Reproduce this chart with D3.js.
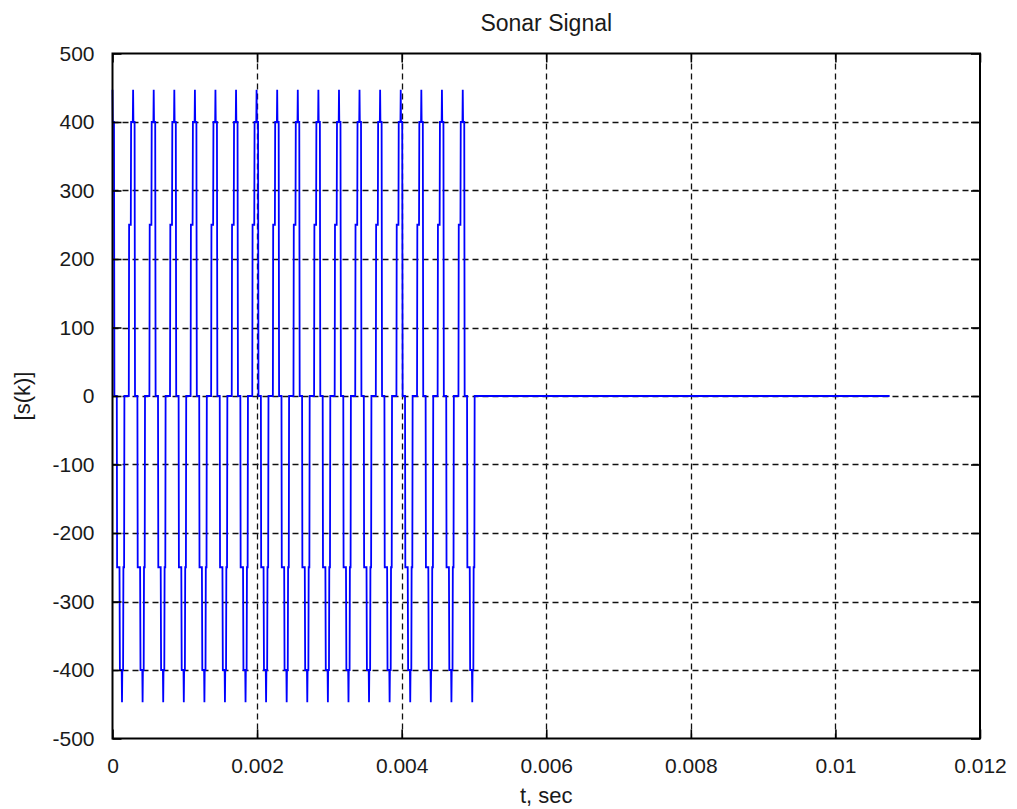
<!DOCTYPE html>
<html>
<head>
<meta charset="utf-8">
<script src="https://cdn.jsdelivr.net/npm/d3@7"></script>
<style>
  html, body { margin: 0; padding: 0; background: #ffffff; }
  svg { display: block; }
  text { font-family: "Liberation Sans", Arial, sans-serif; fill: #1a1a1a; }
</style>
</head>
<body>
<svg id="chart" width="1017" height="809"></svg>
<script>
// ---- data ----
const title = "Sonar Signal";
const xLabel = "t, sec";
const yLabel = "[s(k)]";
const xTicks = [0, 0.002, 0.004, 0.006, 0.008, 0.01, 0.012];
const xTickLabels = ["0", "0.002", "0.004", "0.006", "0.008", "0.01", "0.012"];
const yTicks = [500, 400, 300, 200, 100, 0, -100, -200, -300, -400, -500];
const yTickLabels = ["500", "400", "300", "200", "100", "0", "-100", "-200", "-300", "-400", "-500"];

// times (s) of the positive peaks of the pulse
const peakTimes = [0, 0.000285, 0.000570, 0.000855, 0.001140, 0.001424, 0.001709,
  0.001993, 0.002278, 0.002563, 0.002848, 0.003133, 0.003417, 0.003702,
  0.003987, 0.004272, 0.004557, 0.004845];
// shape of one cycle relative to its positive peak: time offset (s) and value
const cycleOffsetT = [-0.0000595, -0.0000553, -0.0000318, -0.0000277, -0.0000041, 0,
  0.0000041, 0.0000207, 0.0000263, 0.0000595, 0.0000636, 0.0000968, 0.0001023,
  0.0001272, 0.0001314, 0.0001355, 0.0001466, 0.0001507, 0.0001604, 0.0001646];
const cycleValue = [0, 250, 250, 400, 400, 447, 400, 400, 0, 0, -250, -250, -400,
  -400, -447, -400, -400, -250, -250, 0];
const signalStart = { t: 0, s: 447 };
const signalEndT = 0.01075;   // zero tail ends here
const signalEndValue = 0;

// build the series from the read values
const series = [signalStart];
peakTimes.forEach(p => {
  cycleOffsetT.forEach((dt, i) => {
    const t = p + dt;
    if (t > 0) series.push({ t: t, s: cycleValue[i] });
  });
});
series.push({ t: signalEndT, s: signalEndValue });

// ---- layout ----
const svg = d3.select("#chart");
const L = 112.5, R = 980, T = 53.5, B = 738.5;
const x = d3.scaleLinear().domain([0, 0.012]).range([L, R]);
const y = d3.scaleLinear().domain([-500, 500]).range([B, T]);

svg.append("rect").attr("width", 1017).attr("height", 809).attr("fill", "#fff");

// grid
const grid = svg.append("g").attr("stroke", "#111").attr("stroke-width", 1.3)
  .attr("stroke-dasharray", "6,4");
grid.selectAll(".vg").data(xTicks.slice(1, -1)).enter().append("line")
  .attr("x1", d => Math.round(x(d)) + 0.5).attr("x2", d => Math.round(x(d)) + 0.5)
  .attr("y1", T).attr("y2", B);
grid.selectAll(".hg").data(yTicks.slice(1, -1)).enter().append("line")
  .attr("y1", d => Math.round(y(d)) + 0.5).attr("y2", d => Math.round(y(d)) + 0.5)
  .attr("x1", L).attr("x2", R);

// signal
const line = d3.line().x(d => x(d.t)).y(d => y(d.s));
svg.append("path").datum(series).attr("d", line)
  .attr("fill", "none").attr("stroke", "#0000ff").attr("stroke-width", 1.8)
  .attr("stroke-linejoin", "miter");

// axes (MATLAB style: inward ticks, box)
const tickLen = 9;
const fs = 21;
const axB = svg.append("g").attr("transform", `translate(0,${B})`)
  .call(d3.axisBottom(x).tickValues(xTicks).tickFormat((d, i) => xTickLabels[i])
    .tickSizeInner(-tickLen).tickSizeOuter(0).tickPadding(tickLen + 11));
const axT = svg.append("g").attr("transform", `translate(0,${T})`)
  .call(d3.axisTop(x).tickValues(xTicks).tickFormat("").tickSizeInner(-tickLen).tickSizeOuter(0));
const axL = svg.append("g").attr("transform", `translate(${L},0)`)
  .call(d3.axisLeft(y).tickValues(yTicks).tickFormat((d, i) => yTickLabels[i])
    .tickSizeInner(-tickLen).tickSizeOuter(0).tickPadding(tickLen + 9));
const axR = svg.append("g").attr("transform", `translate(${R},0)`)
  .call(d3.axisRight(y).tickValues(yTicks).tickFormat("").tickSizeInner(-tickLen).tickSizeOuter(0));
[axB, axT, axL, axR].forEach(a => {
  a.select(".domain").remove();
  a.selectAll("line").attr("stroke", "#000").attr("stroke-width", 1.6);
  a.selectAll("text").attr("font-size", fs).attr("fill", "#1a1a1a")
    .attr("font-family", '"Liberation Sans", Arial, sans-serif');
});

svg.append("rect").attr("x", L).attr("y", T).attr("width", R - L).attr("height", B - T)
  .attr("fill", "none").attr("stroke", "#000").attr("stroke-width", 2);

// titles
svg.append("text").attr("x", (L + R) / 2).attr("y", 31).attr("text-anchor", "middle")
  .attr("font-size", 23).text(title);
svg.append("text").attr("x", (L + R) / 2).attr("y", 803).attr("text-anchor", "middle")
  .attr("font-size", 22).text(xLabel);
svg.append("text").attr("transform", `translate(30,${(T + B) / 2}) rotate(-90)`)
  .attr("text-anchor", "middle").attr("font-size", 22).text(yLabel);
</script>
</body>
</html>
